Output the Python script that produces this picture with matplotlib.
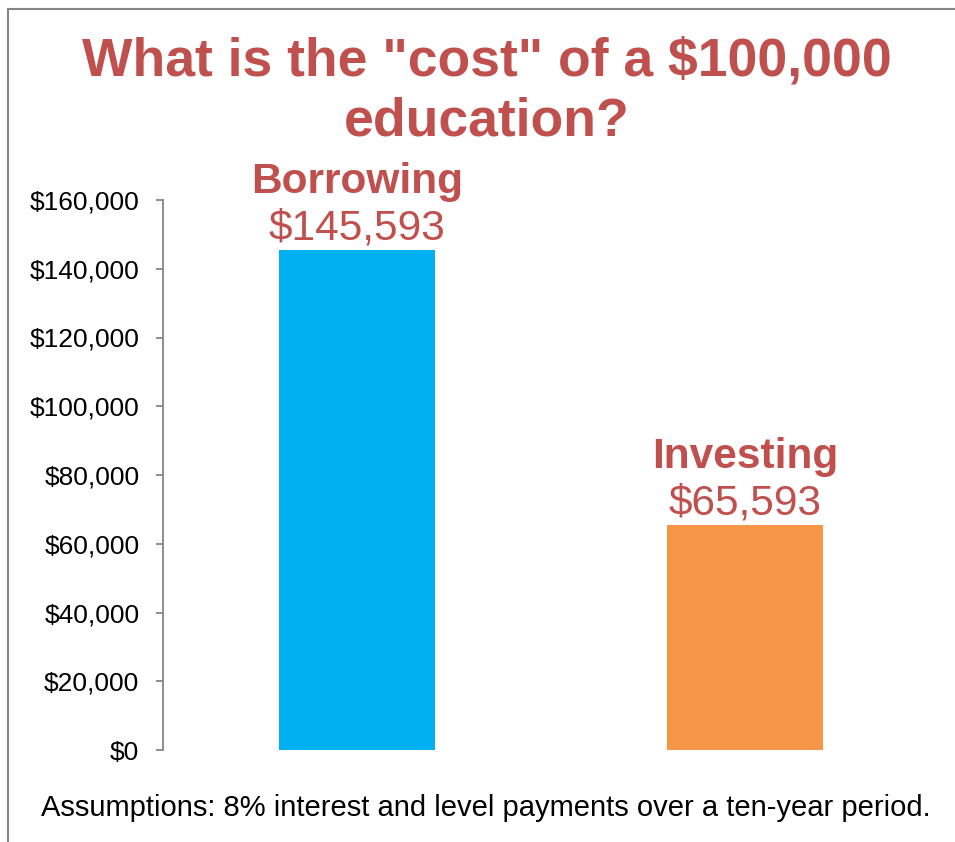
import matplotlib.pyplot as plt
from matplotlib.lines import Line2D
from matplotlib.ticker import FuncFormatter

categorias = ["Borrowing", "Investing"]
valores = [145593, 65593]
cores = ["#00B0F0", "#F79646"]
yticks = [0, 20000, 40000, 60000, 80000, 100000, 120000, 140000, 160000]

titulo = 'What is the "cost" of a $100,000\neducation?'
nota = "Assumptions: 8% interest and level payments over a ten-year period."

vermelho = "#C0504D"
cinza = "#868686"

plt.rcParams["font.family"] = ["Liberation Sans", "DejaVu Sans"]

fig = plt.figure(figsize=(9.55, 8.42), dpi=100)
ax = fig.add_axes([163 / 955, 1 - 750 / 842, 776 / 955, 550 / 842])

x = range(len(categorias))
ax.bar(x, valores, width=0.40, color=cores)

# rotulos acima das barras
for i, (nome, v) in enumerate(zip(categorias, valores)):
    ax.annotate(f"${v:,.0f}", (i, v), xytext=(0, 7), textcoords="offset points",
                ha="center", va="baseline", fontsize=30.5, color=vermelho)
    ax.annotate(nome, (i, v), xytext=(0, 41), textcoords="offset points",
                ha="center", va="baseline", fontsize=30.5, fontweight="bold", color=vermelho)

ax.set_xlim(-0.5, 1.5)
ax.set_ylim(0, 160000)
ax.set_yticks(yticks)
ax.yaxis.set_major_formatter(FuncFormatter(lambda v, p: f"${v:,.0f}"))
ax.set_xticks([])

for lado in ["top", "right", "bottom"]:
    ax.spines[lado].set_visible(False)
ax.spines["left"].set_color(cinza)
ax.spines["left"].set_linewidth(1.3)
ax.tick_params(axis="y", length=5, width=1.3, color=cinza, labelsize=19, pad=12)

fig.text(0.51, 1 - 135 / 842, titulo, ha="center", va="baseline", fontsize=38.5,
         fontweight="bold", color=vermelho, linespacing=1.25)
fig.text(0.509, 1 - 816 / 842, nota, ha="center", va="baseline", fontsize=21, color="black")

# moldura
fig.add_artist(Line2D([8 / 955, 8 / 955], [0, 1 - 9 / 842], color=cinza, lw=1.5))
fig.add_artist(Line2D([8 / 955, 1], [1 - 9 / 842, 1 - 9 / 842], color=cinza, lw=1.5))

fig.savefig("out.png", dpi=100)
